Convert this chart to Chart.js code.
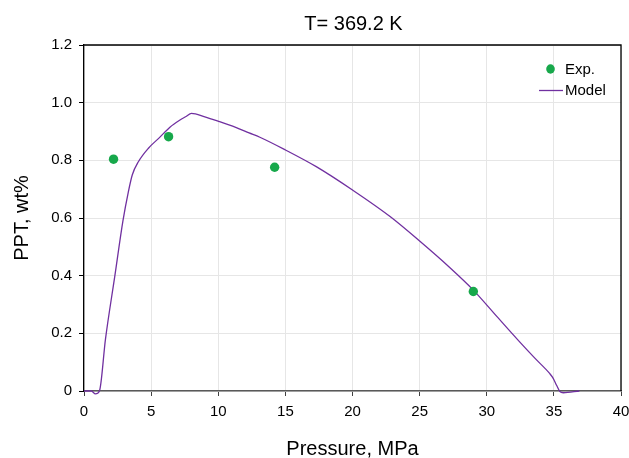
<!DOCTYPE html>
<html>
<head>
<meta charset="utf-8">
<script src="https://cdn.jsdelivr.net/npm/chart.js@4/dist/chart.umd.min.js"></script>
<style>
html,body{margin:0;padding:0;background:#fff;}
#wrap{width:629px;height:458px;}
</style>
</head>
<body>
<div id="wrap"><canvas id="c" width="629" height="458"></canvas></div>
<script>
const chartTitle = "T= 369.2 K";
const xTitle = "Pressure, MPa";
const yTitle = "PPT, wt%";
const expPressure = [2.2, 6.3, 14.2, 29.0];
const expPPT = [0.804, 0.882, 0.776, 0.345];
const modelPressure = [0, 0.55, 0.85, 1.15, 1.6, 2.3, 2.9, 3.3, 3.6, 4.05, 4.8, 5.6, 6.4, 7.15, 7.6, 8.0, 9.0, 10.1, 11.3, 12.3, 13.1, 15.0, 17.3, 20.0, 22.8, 25.0, 27.2, 29.0, 30.8, 32.4, 33.6, 34.7, 34.95, 35.2, 35.45, 35.7, 36.9];
const modelPPT = [0, 0, -0.01, 0.0, 0.18, 0.40, 0.59, 0.69, 0.75, 0.795, 0.842, 0.878, 0.915, 0.94, 0.952, 0.963, 0.951, 0.934, 0.914, 0.895, 0.88, 0.836, 0.778, 0.697, 0.605, 0.52, 0.43, 0.350, 0.256, 0.173, 0.113, 0.06, 0.044, 0.02, -0.002, -0.006, 0];
const xTicks = [0, 5, 10, 15, 20, 25, 30, 35, 40];
const yTicks = [0, 0.2, 0.4, 0.6, 0.8, 1.0, 1.2];
const legendLabels = ["Exp.", "Model"];

const green = '#17a84b';
const purple = '#7030a0';
const FONT = 'Liberation Sans, Arial, sans-serif';

const decor = {
  id: 'decor',
  afterDraw(chart) {
    const ctx = chart.ctx;
    const a = chart.chartArea;
    ctx.save();
    ctx.strokeStyle = '#000';
    ctx.lineWidth = 1.3;
    ctx.beginPath();
    ctx.moveTo(a.left, a.top);
    ctx.lineTo(a.right, a.top);
    ctx.lineTo(a.right, a.bottom);
    ctx.stroke();
    ctx.fillStyle = '#000';
    ctx.font = '20px ' + FONT;
    ctx.textAlign = 'center';
    ctx.textBaseline = 'alphabetic';
    ctx.fillText(chartTitle, (a.left + a.right) / 2 + 1, 30);
    ctx.font = '15px ' + FONT;
    ctx.textAlign = 'left';
    ctx.textBaseline = 'middle';
    ctx.fillStyle = green;
    ctx.beginPath();
    ctx.ellipse(550.5, 69, 4.3, 4.7, 0, 0, Math.PI * 2);
    ctx.fill();
    ctx.strokeStyle = purple;
    ctx.lineWidth = 1.3;
    ctx.beginPath();
    ctx.moveTo(539, 90.5);
    ctx.lineTo(563, 90.5);
    ctx.stroke();
    ctx.fillStyle = '#000';
    ctx.fillText(legendLabels[0], 565, 70);
    ctx.fillText(legendLabels[1], 565, 91);
    ctx.restore();
  }
};

new Chart(document.getElementById('c'), {
  type: 'scatter',
  data: {
    datasets: [
      {
        label: legendLabels[1],
        data: modelPressure.map((x, i) => ({x: x, y: modelPPT[i]})),
        showLine: true,
        borderColor: purple,
        borderWidth: 1.3,
        pointRadius: 0,
        cubicInterpolationMode: 'monotone',
        fill: false,
        order: 2
      },
      {
        label: legendLabels[0],
        data: expPressure.map((x, i) => ({x: x, y: expPPT[i]})),
        backgroundColor: green,
        borderColor: green,
        borderWidth: 0,
        pointRadius: 4.7,
        order: 1
      }
    ]
  },
  options: {
    responsive: false,
    animation: false,
    clip: false,
    layout: {padding: {top: 45, right: 8, left: 0, bottom: 0}},
    plugins: {legend: {display: false}, title: {display: false}, tooltip: {enabled: false}},
    scales: {
      x: {
        type: 'linear', min: 0, max: 40,
        afterBuildTicks: s => { s.ticks = xTicks.map(v => ({value: v})); },
        afterFit: s => { s.height = 67; s.paddingLeft = 0; s.paddingRight = 0; },
        ticks: {color: '#000', font: {size: 15, family: FONT}, padding: 7, maxRotation: 0,
                callback: v => String(v)},
        grid: {color: '#e6e6e6', lineWidth: 1, tickColor: '#404040', tickLength: 5, tickWidth: 1},
        border: {color: '#595959', width: 1.5},
        title: {display: true, text: xTitle, color: '#000', font: {size: 20, family: FONT}, padding: {top: 0, bottom: -3}}
      },
      y: {
        type: 'linear', min: 0, max: 1.2,
        afterBuildTicks: s => { s.ticks = yTicks.map(v => ({value: v})); },
        afterFit: s => { s.width = 84; s.paddingTop = 0; s.paddingBottom = 0; },
        ticks: {color: '#000', font: {size: 15, family: FONT}, padding: 7,
                callback: v => (v === 0 ? '0' : v.toFixed(1))},
        grid: {color: '#e6e6e6', lineWidth: 1, tickColor: '#000', tickLength: 5, tickWidth: 1},
        border: {color: '#000', width: 1.3},
        title: {display: true, text: yTitle, color: '#000', font: {size: 20, family: FONT}, padding: {top: 10, bottom: 0}}
      }
    }
  },
  plugins: [decor]
});
</script>
</body>
</html>
